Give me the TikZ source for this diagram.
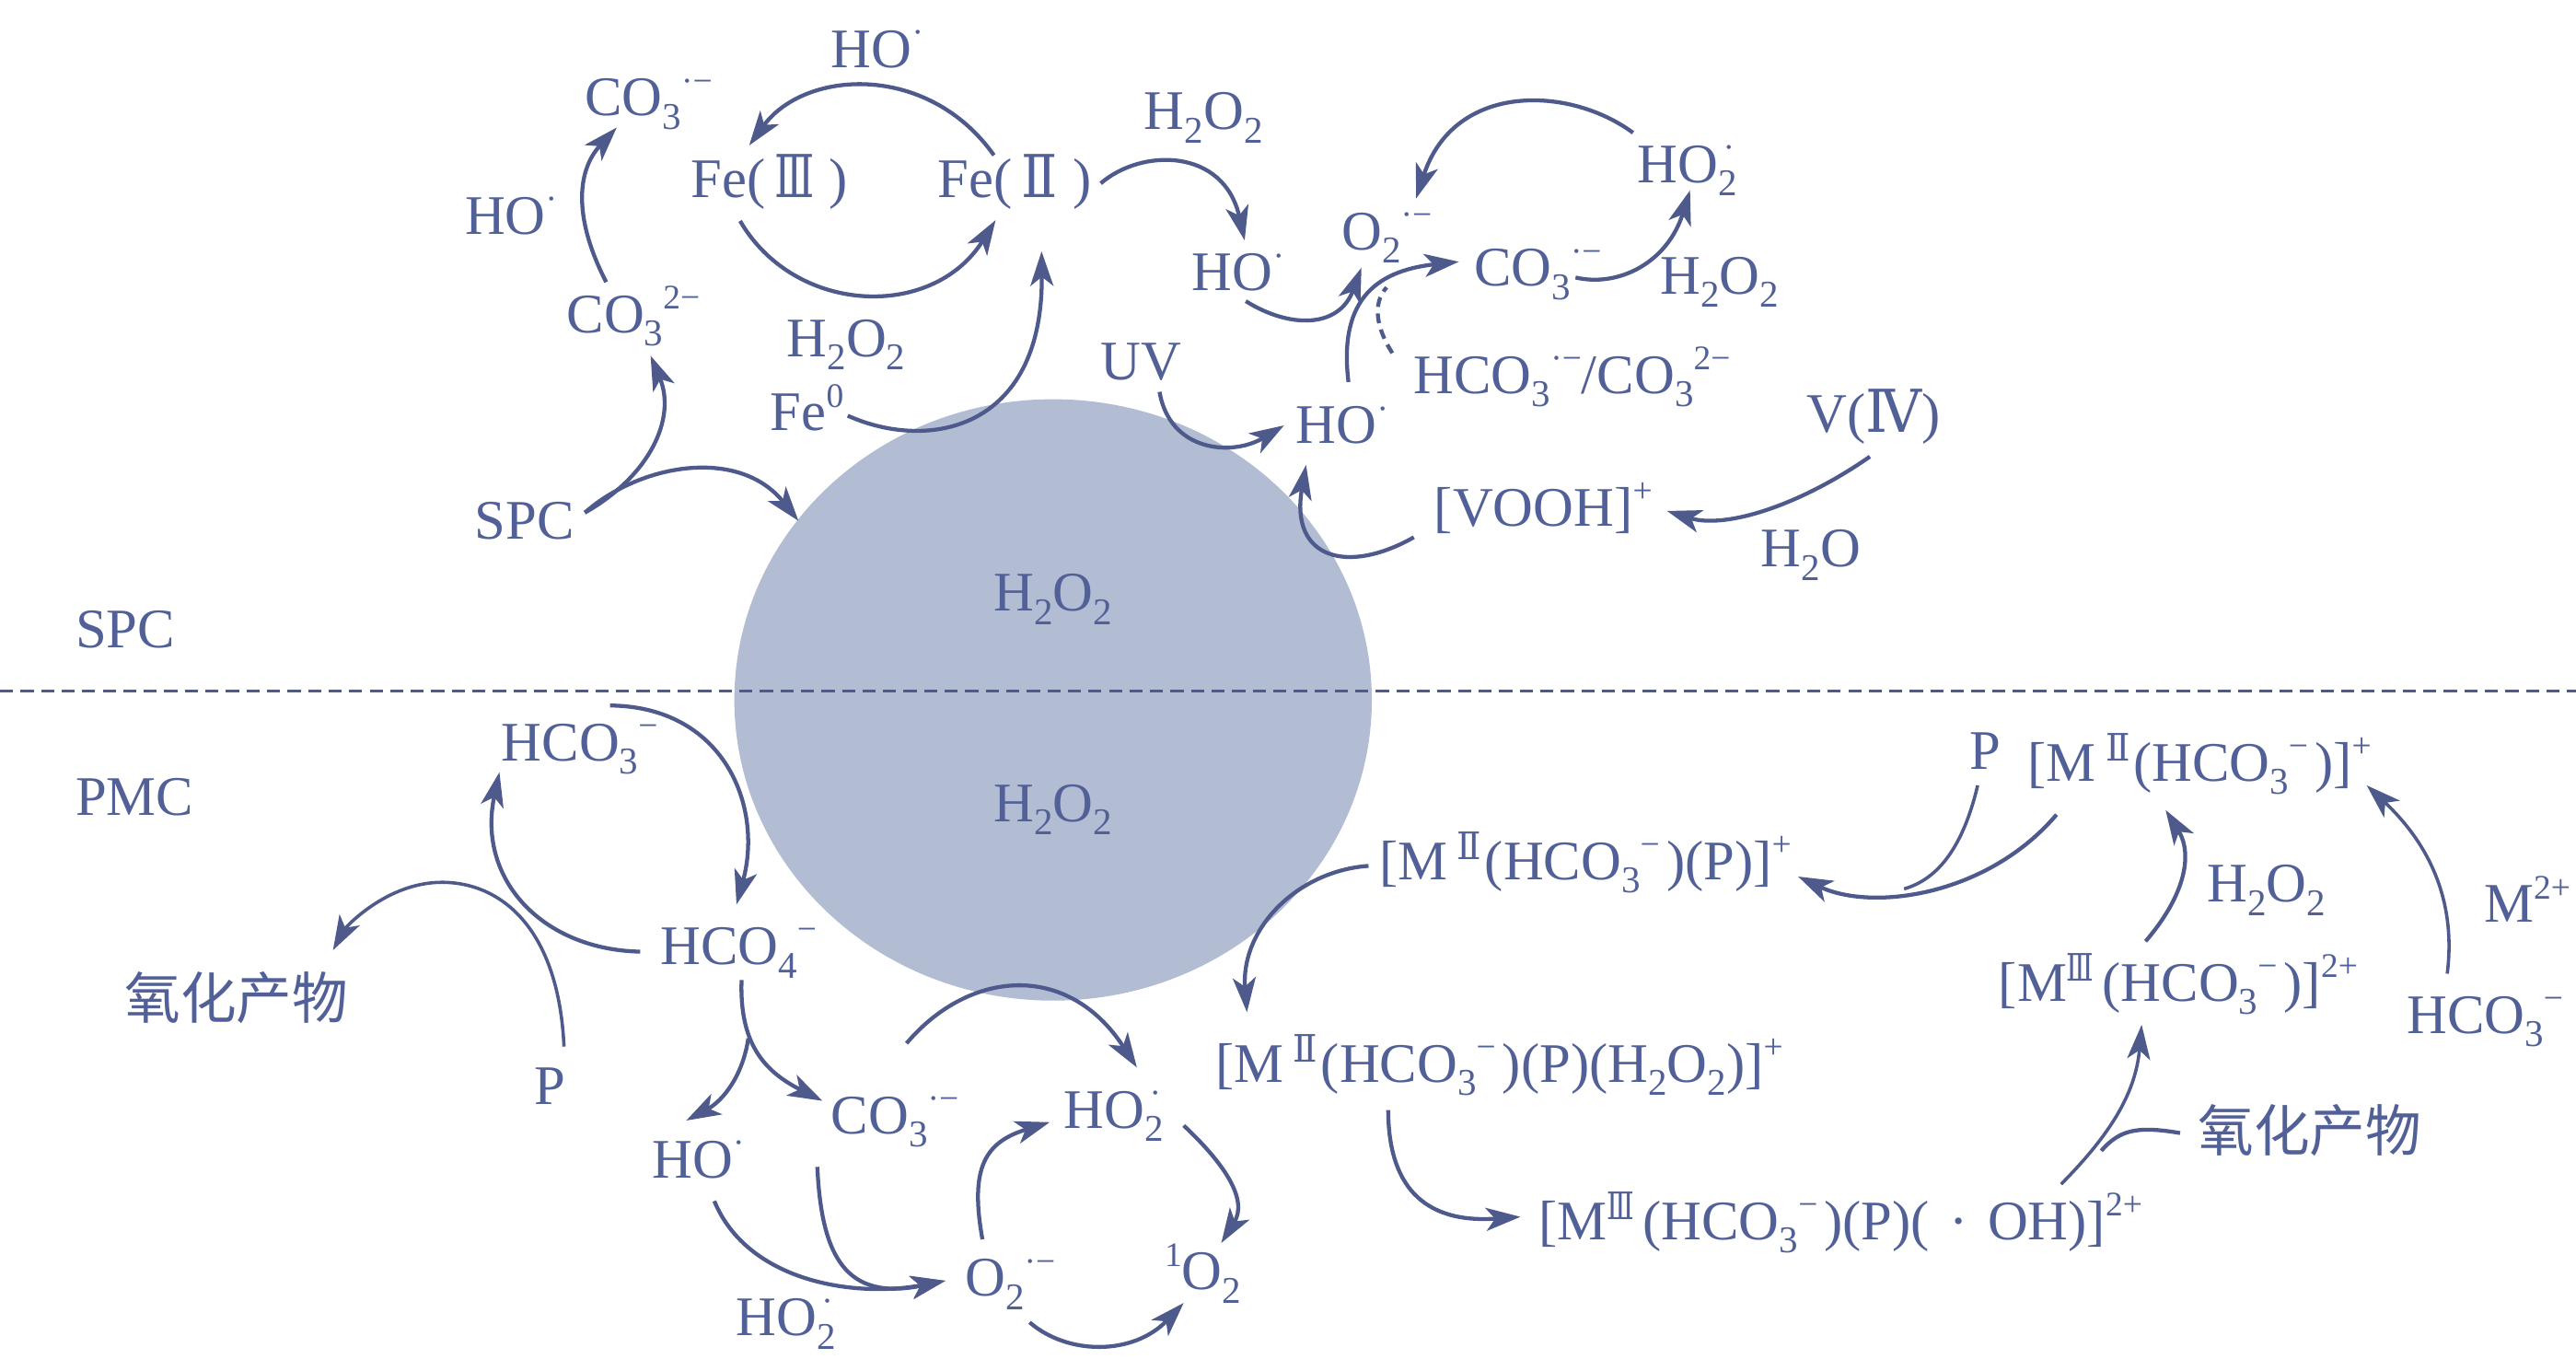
\documentclass[tikz,border=0pt]{standalone}
\usepackage{graphicx}
\usepackage{fontspec}
\usetikzlibrary{arrows.meta,shapes.geometric}
\setmainfont{Liberation Serif}
\newfontfamily\cjkfont{Noto Sans CJK SC}
\newfontfamily\romfont{DejaVu Serif}
\definecolor{tc}{RGB}{82,96,152}
\definecolor{lc}{RGB}{78,90,140}
\definecolor{bc}{RGB}{178,188,210}
\newcommand\chsub[1]{\raisebox{-.24em}{\fontsize{23}{23}\selectfont #1}}
\newcommand\chsup[1]{\raisebox{.42em}{\fontsize{21}{21}\selectfont #1}}
\newcommand\mns{\chsup{−}\kern4pt}
\newcommand\rsmall[2]{\raisebox{.36em}{\romfont\fontsize{23}{23}\selectfont\scalebox{#1}[1]{#2}}}
\newcommand\rbig[2]{{\romfont\fontsize{36}{36}\selectfont\scalebox{#1}[1]{#2}}}
\newcommand\ox{{\cjkfont 氧化产物}}
\tikzset{
  txt/.style={inner sep=0pt,outer sep=0pt,anchor=base west,text=tc,font=\fontsize{34}{34}\selectfont},
  con/.style={draw=lc,line width=2.4pt,line join=round},
  arr/.style={con,-{Stealth[length=21pt,width=14pt,inset=5.5pt]}},
  thin arr/.style={arr,line width=2pt},
  dash con/.style={con,dash pattern=on 6pt off 4pt}
}
\begin{document}
\begin{tikzpicture}[x=1pt,y=-1pt]
\useasboundingbox (0,0) rectangle (1568,834);
\node[ellipse,fill=bc,inner sep=0pt,outer sep=0pt,minimum width=388pt,minimum height=366pt] (cell) at (641,426) {};
\coordinate (divl) at (0,420.6);
\coordinate (divr) at (1568,420.6);
\draw[lc,line width=1.5pt,dash pattern=on 8pt off 4.5pt] (divl) -- (divr);
% top half
\node[txt] (hotop) at (506,41) {HO\chsup{·}};
\node[txt] (co3a) at (356,70.5) {CO\chsub{3}\chsup{·−}};
\node[txt] (fe3) at (420.5,120) {Fe(\,\rbig{.7}{Ⅲ}\kern9pt)};
\node[txt] (fe2) at (571,120) {Fe(\,\rbig{.9}{Ⅱ}\kern9pt)};
\node[txt] (hol) at (283,142.5) {HO\chsup{·}};
\node[txt] (co32) at (345,202.5) {CO\chsub{3}\chsup{2−}};
\node[txt] (hh1) at (479,217) {H\chsub{2}O\chsub{2}};
\node[txt] (fe0) at (469,262) {Fe\chsup{0}};
\node[txt] (spc) at (289,328) {SPC};
\node[txt] (uv) at (670,231) {UV};
\node[txt] (hh2) at (696.5,79) {H\chsub{2}O\chsub{2}};
\node[txt] (o2a) at (816.6,152) {O\chsub{2}\chsup{·−}};
\node[txt] (hoa) at (725.7,177) {HO\chsup{·}};
\node[txt] (co3b) at (897.3,174) {CO\chsub{3}\chsup{·−}};
\node[txt] (ho2a) at (996.8,111) {HO\rlap{\chsub{2}}\kern3pt\chsup{·}};
\node[txt] (hh3) at (1010.5,179) {H\chsub{2}O\chsub{2}};
\node[txt] (hcos) at (860.6,239.5) {HCO\chsub{3}\chsup{·−}/CO\chsub{3}\chsup{2−}};
\node[txt] (hob) at (789,270) {HO\chsup{·}};
\node[txt] (v4) at (1099.8,263) {V(\rbig{.95}{Ⅳ})};
\node[txt] (vooh) at (873,320) {[VOOH]\chsup{+}};
\node[txt] (h2o) at (1072,345) {H\chsub{2}O};
\node[txt] (spcl) at (46,394) {SPC};
\node[txt] (pmcl) at (46,496) {PMC};
\node[txt] (hhc1) at (605,372) {H\chsub{2}O\chsub{2}};
\node[txt] (hhc2) at (605,500) {H\chsub{2}O\chsub{2}};
% lower half
\node[txt] (hco3c) at (305.3,463) {HCO\chsub{3}\chsup{−}};
\node[txt] (hco4) at (402,587) {HCO\chsub{4}\chsup{−}};
\node[txt] (ox1) at (76,620) {\ox};
\node[txt] (p1) at (325.3,672) {P};
\node[txt] (hoc) at (397,717) {HO\chsup{·}};
\node[txt] (ho2c) at (448,813) {HO\rlap{\chsub{2}}\kern3pt\chsup{·}};
\node[txt] (co3c) at (506,690) {CO\chsub{3}\chsup{·−}};
\node[txt] (ho2d) at (647.6,686.5) {HO\rlap{\chsub{2}}\kern3pt\chsup{·}};
\node[txt] (o2c) at (587.5,789) {O\chsub{2}\chsup{·−}};
\node[txt] (o1) at (709,785) {\chsup{1}O\chsub{2}};
\node[txt] (mh) at (740,658.5) {[M\,\rsmall{.95}{Ⅱ}\kern2pt(HCO\chsub{3}\mns)(P)(H\chsub{2}O\chsub{2})]\chsup{+}};
\node[txt] (moh) at (936.8,754.3) {[M\rsmall{.75}{Ⅲ}\kern5pt(HCO\chsub{3}\mns)(P)(\kern12pt·\kern12pt OH)]\chsup{2+}};
\node[txt] (p2) at (1199,468) {P};
\node[txt] (m2) at (1234.4,475.4) {[M\,\rsmall{.95}{Ⅱ}\kern2pt(HCO\chsub{3}\mns)]\chsup{+}};
\node[txt] (mp) at (839.8,535.2) {[M\,\rsmall{.95}{Ⅱ}\kern2pt(HCO\chsub{3}\mns)(P)]\chsup{+}};
\node[txt] (hh4) at (1343.6,549) {H\chsub{2}O\chsub{2}};
\node[txt] (m2p) at (1512,561.5) {M\chsup{2+}};
\node[txt] (m3) at (1216.5,609.2) {[M\rsmall{.75}{Ⅲ}\kern5pt(HCO\chsub{3}\mns)]\chsup{2+}};
\node[txt] (hco3d) at (1465,629) {HCO\chsub{3}\chsup{−}};
\node[txt] (ox2) at (1338,701) {\ox};
% junctions
\coordinate (dashend) at (844,174.9);
\coordinate (branch) at (455.5,632);
\coordinate (junca) at (1159,541);
\coordinate (juncb) at (1279,700.4);
% connectors, top half
\draw[arr] ([shift={(34,-25.5)}]fe2.base west) .. controls (565,38) and (490,42) .. ([shift={(35.5,-31.5)}]fe3.base west);
\draw[arr] ([shift={(30,14.5)}]fe3.base west) .. controls (484,192) and (568,195) .. ([shift={(35,14)}]fe2.base west);
\draw[arr] ([shift={(24,-30.8)}]co32.base west) .. controls (350,135) and (350,105) .. ([shift={(19.4,7.1)}]co3a.base west);
\draw[arr] ([shift={(67,-16)}]spc.base west) .. controls (395,290) and (412,255) .. ([shift={(51,14)}]co32.base west);
\draw[arr] ([shift={(67,-16)}]spc.base west) .. controls (390,282) and (450,272) .. ([shift={(-155,-109)}]cell.center);
\draw[arr] ([shift={(47,-9)}]fe0.base west) .. controls (565,275) and (635,262) .. ([shift={(63,33)}]fe2.base west);
\draw[arr] ([shift={(99,-8.4)}]fe2.base west) .. controls (695,90) and (745,90) .. ([shift={(31.9,-30.7)}]hoa.base west);
\draw[arr] ([shift={(-2.8,-30.2)}]ho2a.base west) .. controls (955,52) and (885,50) .. ([shift={(45.4,-31.2)}]o2a.base west);
\draw[arr] ([shift={(32.6,6.3)}]hoa.base west) .. controls (785,200) and (815,200) .. ([shift={(12.1,10.9)}]o2a.base west);
\draw[arr] ([shift={(31.8,-37.5)}]hob.base west) .. controls (815,185) and (835,165) .. ([shift={(-9.3,-14.7)}]co3b.base west);
\draw[dash con] ([shift={(-13.1,-24.6)}]hcos.base west) .. controls (838,200) and (835,185) .. (dashend);
\draw[arr] ([shift={(61.7,-5.1)}]co3b.base west) .. controls (985,175) and (1015,160) .. ([shift={(31.9,4.8)}]ho2a.base west);
\draw[arr] ([shift={(35.8,7.5)}]uv.base west) .. controls (712,275) and (750,278) .. ([shift={(-7.4,-11.1)}]hob.base west);
\draw[arr] ([shift={(-12.4,7)}]vooh.base west) .. controls (820,350) and (785,340) .. ([shift={(6,13)}]hob.base west);
\draw[arr] ([shift={(38.4,14.9)}]v4.base west) .. controls (1095,308) and (1050,322) .. ([shift={(141.7,-9)}]vooh.base west);
% connectors, lower left
\draw[arr] ([shift={(66,-33.6)}]hco3c.base west) .. controls (440,430) and (465,490) .. ([shift={(46.3,-36.5)}]hco4.base west);
\draw[arr] ([shift={(-12.3,-7.8)}]hco4.base west) .. controls (330,578) and (290,535) .. ([shift={(-1.3,7)}]hco3c.base west);
\draw[thin arr] ([shift={(18,-35)}]p1.base west) .. controls (340,565) and (305,537) .. (269,537) .. controls (235,537) and (210,565) .. ([shift={(126.7,-41.7)}]ox1.base west);
\draw[arr] ([shift={(49.4,9.5)}]hco4.base west) .. controls (450,635) and (465,652) .. ([shift={(-5.4,-20)}]co3c.base west);
\draw[arr] (branch) .. controls (452,655) and (440,670) .. ([shift={(20.7,-35)}]hoc.base west);
\draw[arr] ([shift={(37.8,14)}]hoc.base west) .. controls (455,780) and (520,790) .. ([shift={(-12,-9.5)}]o2c.base west);
\draw[arr] ([shift={(-8.5,20.2)}]co3c.base west) .. controls (500,765) and (515,792) .. ([shift={(-12,-9.5)}]o2c.base west);
\draw[arr] ([shift={(45.8,-55)}]co3c.base west) .. controls (590,590) and (650,585) .. ([shift={(44.4,-36.8)}]ho2d.base west);
\draw[arr] ([shift={(10.5,-34.7)}]o2c.base west) .. controls (590,710) and (600,695) .. ([shift={(-8.6,-3.5)}]ho2d.base west);
\draw[arr] ([shift={(72.9,-1.5)}]ho2d.base west) .. controls (745,708) and (760,730) .. ([shift={(34.4,-28.5)}]o1.base west);
\draw[arr] ([shift={(39.2,15.8)}]o2c.base west) .. controls (650,825) and (690,825) .. ([shift={(11.5,8)}]o1.base west);
% connectors, lower right
\draw[arr] ([shift={(105,17.1)}]mh.base west) .. controls (845,720) and (865,745) .. ([shift={(-11.3,-13.7)}]moh.base west);
\draw[arr] ([shift={(-6.8,-8.2)}]mp.base west) .. controls (790,530) and (755,565) .. ([shift={(19,-42.5)}]mh.base west);
\draw[arr] ([shift={(17.4,20.4)}]m2.base west) .. controls (1210,545) and (1140,555) .. ([shift={(254.7,-1.7)}]mp.base west);
\draw[con,line width=2pt] ([shift={(4.8,10)}]p2.base west) .. controls (1195,515) and (1180,535) .. (junca);
\draw[arr] ([shift={(89.5,-36.3)}]m3.base west) .. controls (1330,545) and (1335,520) .. ([shift={(83.8,17.6)}]m2.base west);
\draw[thin arr] ([shift={(24.6,-36.4)}]hco3d.base west) .. controls (1495,550) and (1480,515) .. ([shift={(206.2,2.6)}]m2.base west);
\draw[thin arr] ([shift={(317.8,-33.6)}]moh.base west) .. controls (1285,690) and (1300,665) .. ([shift={(87.1,14.5)}]m3.base west);
\draw[con] ([shift={(-11,-11.4)}]ox2.base west) .. controls (1300,685) and (1290,688) .. (juncb);
\end{tikzpicture}
\end{document}
